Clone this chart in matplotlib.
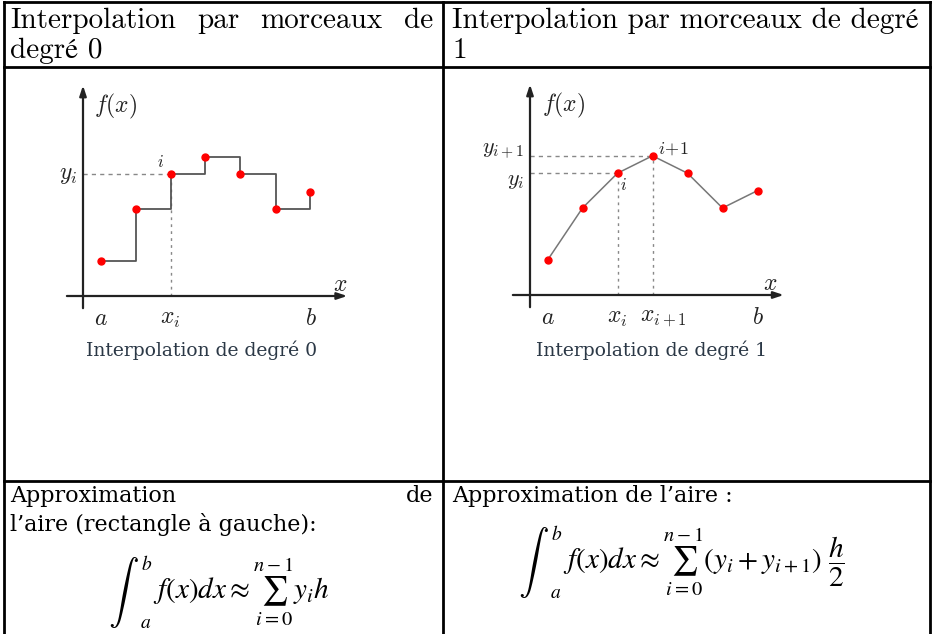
import numpy as np
import matplotlib.pyplot as plt

# node positions (in steps of h) and sampled values, same for both sketches
x_nodes = [0.5, 1.5, 2.5, 3.5, 4.5, 5.5, 6.5]
y_nodes = [2, 5, 7, 8, 7, 5, 6]
i_node = 2

header_left = ['Interpolation', 'par', 'morceaux', 'de']
header_left2 = 'degré 0'
header_right = 'Interpolation par morceaux de degré'
header_right2 = '1'
captions = ['Interpolation de degré 0', 'Interpolation de degré 1']
area_left = ['Approximation', 'de']
area_left2 = 'l\u2019aire (rectangle à gauche):'
area_right = 'Approximation de l\u2019aire :'
formula_left = r'$f(x)dx \approx \sum_{i=0}^{n-1} y_i h$'
formula_right = r'$f(x)dx \approx \sum_{i=0}^{n-1}(y_i + y_{i+1})\ \dfrac{h}{2}$'

W, H = 933, 634
fig = plt.figure(figsize=(W / 100, H / 100), dpi=100)
ax = fig.add_axes([0, 0, 1, 1])
ax.set_xlim(0, W)
ax.set_ylim(H, 0)
ax.axis('off')
renderer = fig.canvas.get_renderer()

# table grid
lw = 2
ax.plot([4, 930], [2, 2], color='k', lw=lw)
ax.plot([4, 930], [67, 67], color='k', lw=lw)
ax.plot([4, 930], [481, 481], color='k', lw=lw)
for xv in [4, 443, 930]:
    ax.plot([xv, xv], [2, H], color='k', lw=lw)

hdr = dict(fontfamily=['cmr10', 'STIXGeneral'], fontsize=21, va='baseline')
body = dict(fontfamily='DejaVu Serif', fontsize=16, va='center')


def justify(words, x0, x1, y, **kw):
    texts = [ax.text(0, y, w, **kw) for w in words]
    widths = [t.get_window_extent(renderer).width for t in texts]
    gap = (x1 - x0 - sum(widths)) / (len(words) - 1)
    x = x0
    for t, w in zip(texts, widths):
        t.set_x(x)
        x += w + gap


justify(header_left, 10, 433, 28, **hdr)
ax.text(10, 58, header_left2, **hdr)
ax.text(452, 28, header_right, **hdr)
ax.text(452, 58, header_right2, **hdr)

justify(area_left, 10, 433, 496, **body)
ax.text(10, 525, area_left2, **body)
ax.text(452, 496, area_right, **body)

# formulas: big integral sign drawn on its own, then limits, then the rest
for x0, yc, body_f in [(108, 592, formula_left), (518, 562, formula_right)]:
    s = ax.text(x0, yc, r'$\int$', ha='left', va='center', fontsize=22,
                math_fontfamily='cm')
    w = s.get_window_extent(renderer).width
    ax.text(x0 + w + 2, yc - 27, r'$b$', ha='left', va='center',
            fontsize=14, math_fontfamily='stix')
    ax.text(x0 + w + 1, yc + 31, r'$a$', ha='left', va='center',
            fontsize=14, math_fontfamily='stix')
    ax.text(x0 + w + 14, yc, body_f, ha='left', va='center',
            fontsize=21, math_fontfamily='stix')

# captions under the sketches
ax.text(202, 350, captions[0], ha='center', va='center', fontsize=13.5,
        fontfamily='DejaVu Serif', color='#2b3846')
ax.text(652, 350, captions[1], ha='center', va='center', fontsize=13.5,
        fontfamily='DejaVu Serif', color='#2b3846')

ux, uy = 35.0, 17.4
lab = dict(math_fontfamily='cm', fontsize=17, color='#222222')


def sketch(ox, oy, left, right):
    # inset axes: pixel box [left, right] x [80, 330], origin at (ox, oy)
    a = fig.add_axes([left / W, 1 - 330 / H, (right - left) / W, 250 / H])
    a.set_xlim((left - ox) / ux, (right - ox) / ux)
    a.set_ylim((oy - 330) / uy, (oy - 80) / uy)
    a.axis('off')
    return a


arrow = dict(arrowstyle='-|>,head_length=0.6,head_width=0.2', color='#222222',
             lw=1.6, shrinkA=0, shrinkB=0)

# degree 0 sketch
a0 = sketch(83, 296, 55, 365)
a0.annotate('', xy=(0, 12.1), xytext=(0, -0.7), arrowprops=arrow)
a0.annotate('', xy=(7.55, 0), xytext=(-0.46, 0), arrowprops=arrow)
xi, yi = x_nodes[i_node], y_nodes[i_node]
a0.plot([0, xi], [yi, yi], ls=(0, (3, 3)), color='#888888', lw=1)
a0.plot([xi, xi], [0, yi], ls=(0, (2, 3)), color='#888888', lw=1)
a0.plot(x_nodes, y_nodes, drawstyle='steps-post', color='#555555', lw=1.3)
a0.plot(x_nodes, y_nodes, 'o', color='red', ms=5, zorder=3)
a0.text(0.3, 10.9, r'$f(x)$', ha='left', va='center', **lab)
a0.text(-0.15, yi, r'$y_i$', ha='right', va='center', **lab)
a0.text(xi - 0.28, yi + 0.7, r'$i$', ha='center', va='center',
        math_fontfamily='cm', fontsize=12, color='#222222')
a0.text(7.35, 0.7, r'$x$', ha='center', va='center', **lab)
a0.text(x_nodes[0], -1.25, r'$a$', ha='center', va='center', **lab)
a0.text(xi, -1.25, r'$x_i$', ha='center', va='center', **lab)
a0.text(x_nodes[-1], -1.25, r'$b$', ha='center', va='center', **lab)

# degree 1 sketch
a1 = sketch(530, 295, 500, 810)
a1.annotate('', xy=(0, 12.1), xytext=(0, -0.7), arrowprops=arrow)
a1.annotate('', xy=(7.25, 0), xytext=(-0.49, 0), arrowprops=arrow)
xj, yj = x_nodes[i_node + 1], y_nodes[i_node + 1]
for xv, yv in [(xi, yi), (xj, yj)]:
    a1.plot([0, xv], [yv, yv], ls=(0, (3, 3)), color='#888888', lw=1)
    a1.plot([xv, xv], [0, yv], ls=(0, (2, 3)), color='#888888', lw=1)
a1.plot(x_nodes, y_nodes, color='#777777', lw=1.1)
a1.plot(x_nodes, y_nodes, 'o', color='red', ms=5, zorder=3)
a1.text(0.33, 10.9, r'$f(x)$', ha='left', va='center', **lab)
a1.text(-0.15, yj + 0.2, r'$y_{i+1}$', ha='right', va='center',
        math_fontfamily='cm', fontsize=16, color='#222222')
a1.text(-0.15, yi - 0.45, r'$y_i$', ha='right', va='center',
        math_fontfamily='cm', fontsize=16, color='#222222')
a1.text(xj + 0.15, yj + 0.4, r'$i\!+\!1$', ha='left', va='center',
        math_fontfamily='cm', fontsize=13, color='#222222')
a1.text(xi + 0.17, yi - 0.65, r'$i$', ha='center', va='center',
        math_fontfamily='cm', fontsize=12, color='#222222')
a1.text(6.85, 0.7, r'$x$', ha='center', va='center', **lab)
a1.text(x_nodes[0], -1.25, r'$a$', ha='center', va='center', **lab)
a1.text(xi, -1.25, r'$x_i$', ha='center', va='center', **lab)
a1.text(xj + 0.3, -1.25, r'$x_{i+1}$', ha='center', va='center', **lab)
a1.text(x_nodes[-1], -1.25, r'$b$', ha='center', va='center', **lab)

fig.savefig('out.png', dpi=100)
